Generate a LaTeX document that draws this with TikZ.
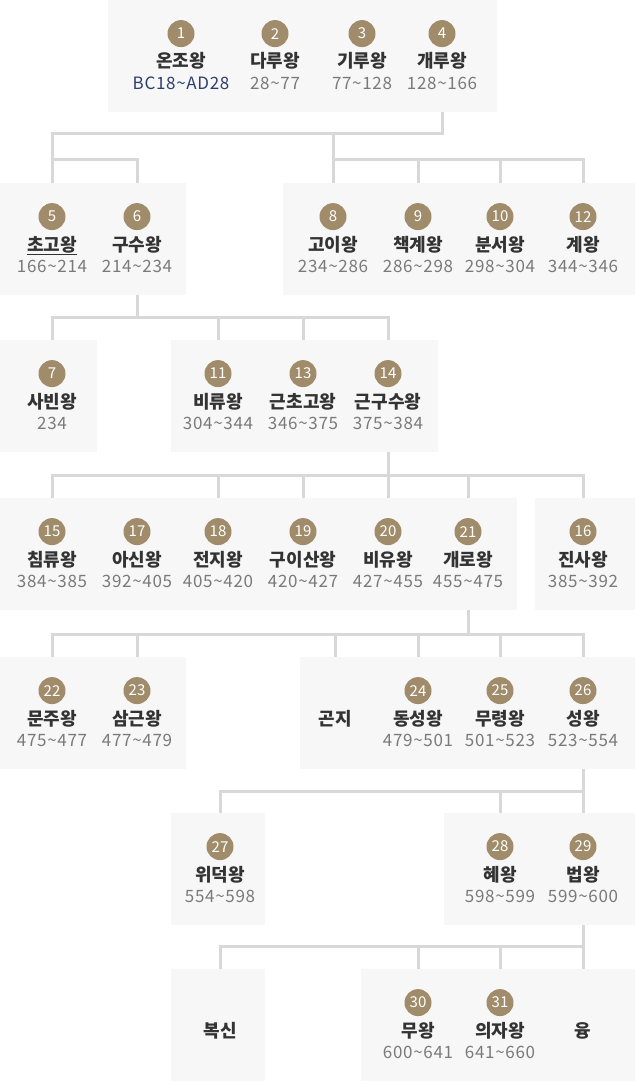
\documentclass[tikz,border=0pt]{standalone}
\usepackage{fontspec}
\setmainfont{Noto Sans CJK KR}
\newfontfamily\datefont[LetterSpace=4]{Noto Sans CJK KR}
\definecolor{panelgray}{HTML}{F7F7F7}
\definecolor{linkgray}{HTML}{D8D8D8}
\definecolor{badgebrown}{HTML}{A08C6A}
\definecolor{namegray}{HTML}{333333}
\definecolor{dategray}{HTML}{7A7A7A}
\definecolor{datenavy}{HTML}{2E3F6E}
\newcommand{\tld}{\textasciitilde}

\begin{document}
\begin{tikzpicture}[x=1pt, y=-1pt,
  panel/.style = {fill=panelgray, inner sep=0, outer sep=0, anchor=north west, minimum height=112pt},
  king/.style = {inner sep=0, text height=13pt, text depth=3pt, text=namegray, font=\bfseries\fontsize{18}{18}\selectfont},
  badge/.style = {circle, fill=badgebrown, text=white, minimum size=27pt, inner sep=0, font=\fontsize{15}{15}\selectfont, yshift=7.5pt},
  reign/.style = {inner sep=0, text height=12pt, text depth=3pt, text=dategray, font=\datefont\fontsize{17}{17}\selectfont, yshift=-6pt},
  link/.style = {draw=linkgray, line width=3pt}]

\useasboundingbox (0,0) rectangle (635,1086);

% panels
\node[panel, minimum width=389pt] (p1)  at (108,0)   {};
\node[panel, minimum width=186pt] (p2)  at (0,183)   {};
\node[panel, minimum width=352pt] (p3)  at (283,183) {};
\node[panel, minimum width=97pt]  (p4)  at (0,340)   {};
\node[panel, minimum width=267pt] (p5)  at (171,340) {};
\node[panel, minimum width=517pt] (p6)  at (0,498)   {};
\node[panel, minimum width=100pt] (p7)  at (535,498) {};
\node[panel, minimum width=186pt] (p8)  at (0,657)   {};
\node[panel, minimum width=335pt] (p9)  at (300,657) {};
\node[panel, minimum width=94pt]  (p10) at (171,813) {};
\node[panel, minimum width=191pt] (p11) at (444,813) {};
\node[panel, minimum width=94pt]  (p12) at (171,969) {};
\node[panel, minimum width=274pt] (p13) at (361,969) {};

% kings
\node[king, label={[badge]above:1}, label={[reign, text=datenavy]below:BC18\tld AD28}] (k1) at (181,63) {온조왕};
\node[king, label={[badge]above:2}, label={[reign]below:28\tld 77}]     (k2) at (275,63) {다루왕};
\node[king, label={[badge]above:3}, label={[reign]below:77\tld 128}]    (k3) at (362,63) {기루왕};
\node[king, label={[badge]above:4}, label={[reign]below:128\tld 166}]   (k4) at (442,63) {개루왕};

\node[king, label={[badge]above:5}, label={[reign]below:166\tld 214}]   (k5) at (52,246) {\underline{초고왕}};
\node[king, label={[badge]above:6}, label={[reign]below:214\tld 234}]   (k6) at (137,246) {구수왕};
\node[king, label={[badge]above:8}, label={[reign]below:234\tld 286}]   (k8) at (333,246) {고이왕};
\node[king, label={[badge]above:9}, label={[reign]below:286\tld 298}]   (k9) at (418,246) {책계왕};
\node[king, label={[badge]above:10}, label={[reign]below:298\tld 304}]  (k10) at (500,246) {분서왕};
\node[king, label={[badge]above:12}, label={[reign]below:344\tld 346}]  (k12) at (583,246) {계왕};

\node[king, label={[badge]above:7}, label={[reign]below:234}]           (k7) at (52,403) {사빈왕};
\node[king, label={[badge]above:11}, label={[reign]below:304\tld 344}]  (k11) at (218,403) {비류왕};
\node[king, label={[badge]above:13}, label={[reign]below:346\tld 375}]  (k13) at (303,403) {근초고왕};
\node[king, label={[badge]above:14}, label={[reign]below:375\tld 384}]  (k14) at (388,403) {근구수왕};

\node[king, label={[badge]above:15}, label={[reign]below:384\tld 385}]  (k15) at (52,561) {침류왕};
\node[king, label={[badge]above:17}, label={[reign]below:392\tld 405}]  (k17) at (137,561) {아신왕};
\node[king, label={[badge]above:18}, label={[reign]below:405\tld 420}]  (k18) at (218,561) {전지왕};
\node[king, label={[badge]above:19}, label={[reign]below:420\tld 427}]  (k19) at (303,561) {구이산왕};
\node[king, label={[badge]above:20}, label={[reign]below:427\tld 455}]  (k20) at (388,561) {비유왕};
\node[king, label={[badge]above:21}, label={[reign]below:455\tld 475}]  (k21) at (468,561) {개로왕};
\node[king, label={[badge]above:16}, label={[reign]below:385\tld 392}]  (k16) at (583,561) {진사왕};

\node[king, label={[badge]above:22}, label={[reign]below:475\tld 477}]  (k22) at (52,720) {문주왕};
\node[king, label={[badge]above:23}, label={[reign]below:477\tld 479}]  (k23) at (137,720) {삼근왕};
\node[king] (gonji) at (335,720) {곤지};
\node[king, label={[badge]above:24}, label={[reign]below:479\tld 501}]  (k24) at (418,720) {동성왕};
\node[king, label={[badge]above:25}, label={[reign]below:501\tld 523}]  (k25) at (500,720) {무령왕};
\node[king, label={[badge]above:26}, label={[reign]below:523\tld 554}]  (k26) at (583,720) {성왕};

\node[king, label={[badge]above:27}, label={[reign]below:554\tld 598}]  (k27) at (220,876) {위덕왕};
\node[king, label={[badge]above:28}, label={[reign]below:598\tld 599}]  (k28) at (500,876) {혜왕};
\node[king, label={[badge]above:29}, label={[reign]below:599\tld 600}]  (k29) at (583,876) {법왕};

\node[king] (boksin) at (220,1032) {복신};
\node[king, label={[badge]above:30}, label={[reign]below:600\tld 641}]  (k30) at (418,1032) {무왕};
\node[king, label={[badge]above:31}, label={[reign]below:641\tld 660}]  (k31) at (500,1032) {의자왕};
\node[king] (yung) at (583,1032) {융};

% bus lines
\coordinate (j1) at (0,134);
\coordinate (j2) at (0,160);
\coordinate (j3) at (0,317);
\coordinate (j4) at (0,475);
\coordinate (j5) at (0,634);
\coordinate (j6) at (0,791);
\coordinate (j7) at (0,946);

\draw[link] (k4 |- p1.south) |- (j1 -| k5) -- (k5 |- p2.north);
\draw[link] (j1 -| k8) -- (k8 |- p3.north);
\draw[link] (j2 -| k5) -| (k6 |- p2.north);
\draw[link] (j2 -| k8) -| (k12 |- p3.north);
\draw[link] (j2 -| k9) -- (k9 |- p3.north);
\draw[link] (j2 -| k10) -- (k10 |- p3.north);

\draw[link] (k6 |- p2.south) -- (j3 -| k6);
\draw[link] (k7 |- p4.north) |- (j3 -| k14) -- (k14 |- p5.north);
\draw[link] (j3 -| k11) -- (k11 |- p5.north);
\draw[link] (j3 -| k13) -- (k13 |- p5.north);

\draw[link] (k14 |- p5.south) -- (j4 -| k14);
\draw[link] (k15 |- p6.north) |- (j4 -| k16) -- (k16 |- p7.north);
\draw[link] (j4 -| k18) -- (k18 |- p6.north);
\draw[link] (j4 -| k19) -- (k19 |- p6.north);
\draw[link] (j4 -| k20) -- (k20 |- p6.north);
\draw[link] (j4 -| k21) -- (k21 |- p6.north);

\draw[link] (k21 |- p6.south) -- (j5 -| k21);
\draw[link] (k22 |- p8.north) |- (j5 -| k26) -- (k26 |- p9.north);
\draw[link] (j5 -| k23) -- (k23 |- p8.north);
\draw[link] (j5 -| gonji) -- (gonji |- p9.north);
\draw[link] (j5 -| k24) -- (k24 |- p9.north);
\draw[link] (j5 -| k25) -- (k25 |- p9.north);

\draw[link] (k26 |- p9.south) -- (k29 |- p11.north);
\draw[link] (k27 |- p10.north) |- (j6 -| k29);
\draw[link] (j6 -| k28) -- (k28 |- p11.north);

\draw[link] (k29 |- p11.south) -- (yung |- p13.north);
\draw[link] (boksin |- p12.north) |- (j7 -| yung);
\draw[link] (j7 -| k30) -- (k30 |- p13.north);
\draw[link] (j7 -| k31) -- (k31 |- p13.north);

\end{tikzpicture}
\end{document}
